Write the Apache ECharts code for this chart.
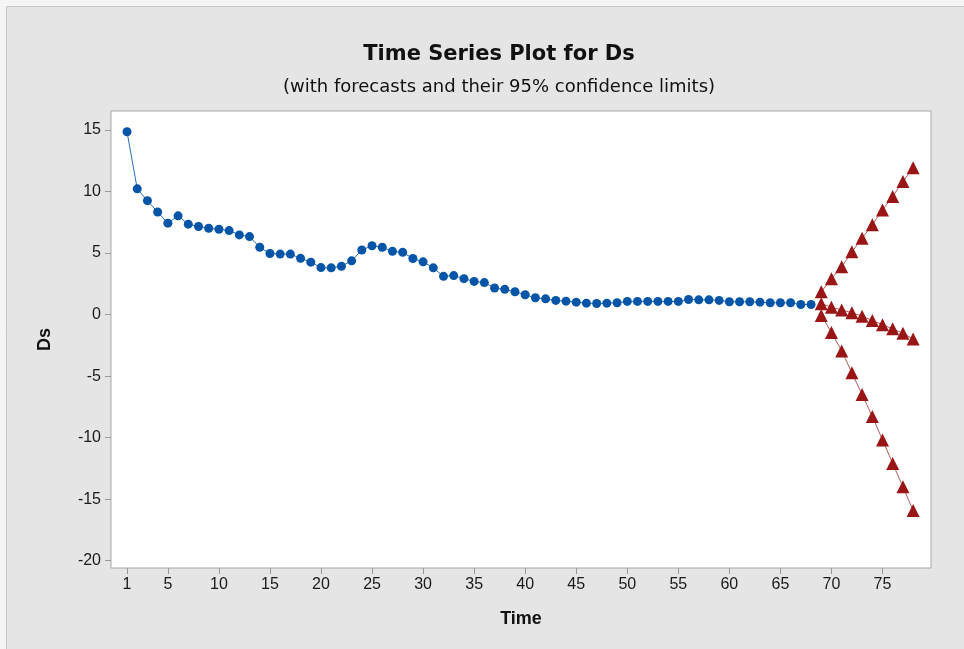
<!DOCTYPE html>
<html><head><meta charset="utf-8">
<script src="https://cdn.jsdelivr.net/npm/echarts@6/dist/echarts.min.js"></script>
<style>html,body{margin:0;padding:0;background:#f4f4f4;}#c{width:964px;height:649px;}</style>
</head><body><div id="c"></div>
<script>
const dsValues = [14.86,10.22,9.26,8.34,7.43,8.03,7.35,7.16,7.02,6.94,
  6.83,6.48,6.34,5.47,4.97,4.92,4.92,4.57,4.26,3.82,
  3.8,3.93,4.37,5.25,5.6,5.47,5.14,5.06,4.56,4.29,
  3.8,3.11,3.17,2.92,2.7,2.6,2.16,2.05,1.86,1.61,
  1.37,1.28,1.15,1.09,1.01,0.93,0.9,0.93,0.96,1.07,
  1.07,1.07,1.07,1.07,1.07,1.23,1.2,1.2,1.15,1.04,
  1.04,1.04,1.01,0.96,0.96,0.96,0.82,0.82];
const forecastTimes = [69,70,71,72,73,74,75,76,77,78];
const upperLimit = [1.85,2.92,3.88,5.1,6.2,7.3,8.5,9.6,10.82,11.94];
const forecast = [0.88,0.6,0.38,0.15,-0.13,-0.48,-0.82,-1.16,-1.52,-1.98];
const lowerLimit = [-0.08,-1.45,-2.95,-4.73,-6.5,-8.28,-10.19,-12.1,-14.0,-15.93];
const xTicks = [1,5,10,15,20,25,30,35,40,45,50,55,60,65,70,75];
const yTicks = [-20,-15,-10,-5,0,5,10,15];

const pairs = (xs, ys) => xs.map((x, i) => [x, ys[i]]);
const dsData = dsValues.map((v, i) => [i + 1, v]);
const red = '#9a1515';
const redLine = '#b35c5c';
const LIB = "Liberation Sans";
const DJV = "DejaVu Sans";
const fSeries = (data) => ({
  type: 'line', data: pairs(forecastTimes, data), symbol: 'triangle', symbolSize: 13,
  itemStyle: {color: red}, lineStyle: {color: redLine, width: 1}, z: 3
});
const chart = echarts.init(document.getElementById('c'), null, {renderer: 'canvas'});
chart.setOption({
  animation: false,
  backgroundColor: '#f4f4f4',
  graphic: [{type: 'rect', shape: {x: 6.5, y: 6.5, width: 970, height: 660},
    style: {fill: '#e5e5e5', stroke: '#c6c6c6', lineWidth: 1}, z: -10}],
  title: [{
    text: 'Time Series Plot for Ds', left: 494, top: 39, textAlign: 'center',
    textStyle: {fontFamily: DJV, fontSize: 21, fontWeight: 'bold', color: '#111'}
  }, {
    text: '(with forecasts and their 95% confidence limits)', left: 494, top: 73, textAlign: 'center',
    textStyle: {fontFamily: DJV, fontSize: 18, fontWeight: 'normal', color: '#111'}
  }],
  grid: {left: 111, top: 111, width: 820, height: 457, show: true, backgroundColor: '#fff',
    borderColor: '#a8a8a8', borderWidth: 1},
  xAxis: {
    type: 'value', min: -0.57, max: 79.75,
    name: 'Time', nameLocation: 'middle', nameGap: 42,
    nameTextStyle: {fontFamily: LIB, fontSize: 18, fontWeight: 'bold', color: '#111'},
    axisLine: {show: false, onZero: false},
    axisTick: {show: true, length: 6, lineStyle: {color: '#999'}, customValues: xTicks},
    axisLabel: {customValues: xTicks, margin: 9, fontFamily: LIB, fontSize: 16, color: '#1a1a1a'},
    splitLine: {show: false}
  },
  yAxis: {
    type: 'value', min: -20.6, max: 16.55,
    name: 'Ds', nameLocation: 'middle', nameGap: 57, nameRotate: 90,
    nameTextStyle: {fontFamily: LIB, fontSize: 18, fontWeight: 'bold', color: '#111'},
    axisLine: {show: false, onZero: false},
    axisTick: {show: true, length: 6, lineStyle: {color: '#999'}, customValues: yTicks},
    axisLabel: {customValues: yTicks, margin: 10, fontFamily: LIB, fontSize: 16, color: '#1a1a1a'},
    splitLine: {show: false}
  },
  series: [
    {type: 'line', data: dsData, symbol: 'circle', symbolSize: 9,
      itemStyle: {color: '#0455a8'}, lineStyle: {color: '#2a6db5', width: 1}, z: 2},
    fSeries(upperLimit), fSeries(forecast), fSeries(lowerLimit)
  ]
});
</script></body></html>
